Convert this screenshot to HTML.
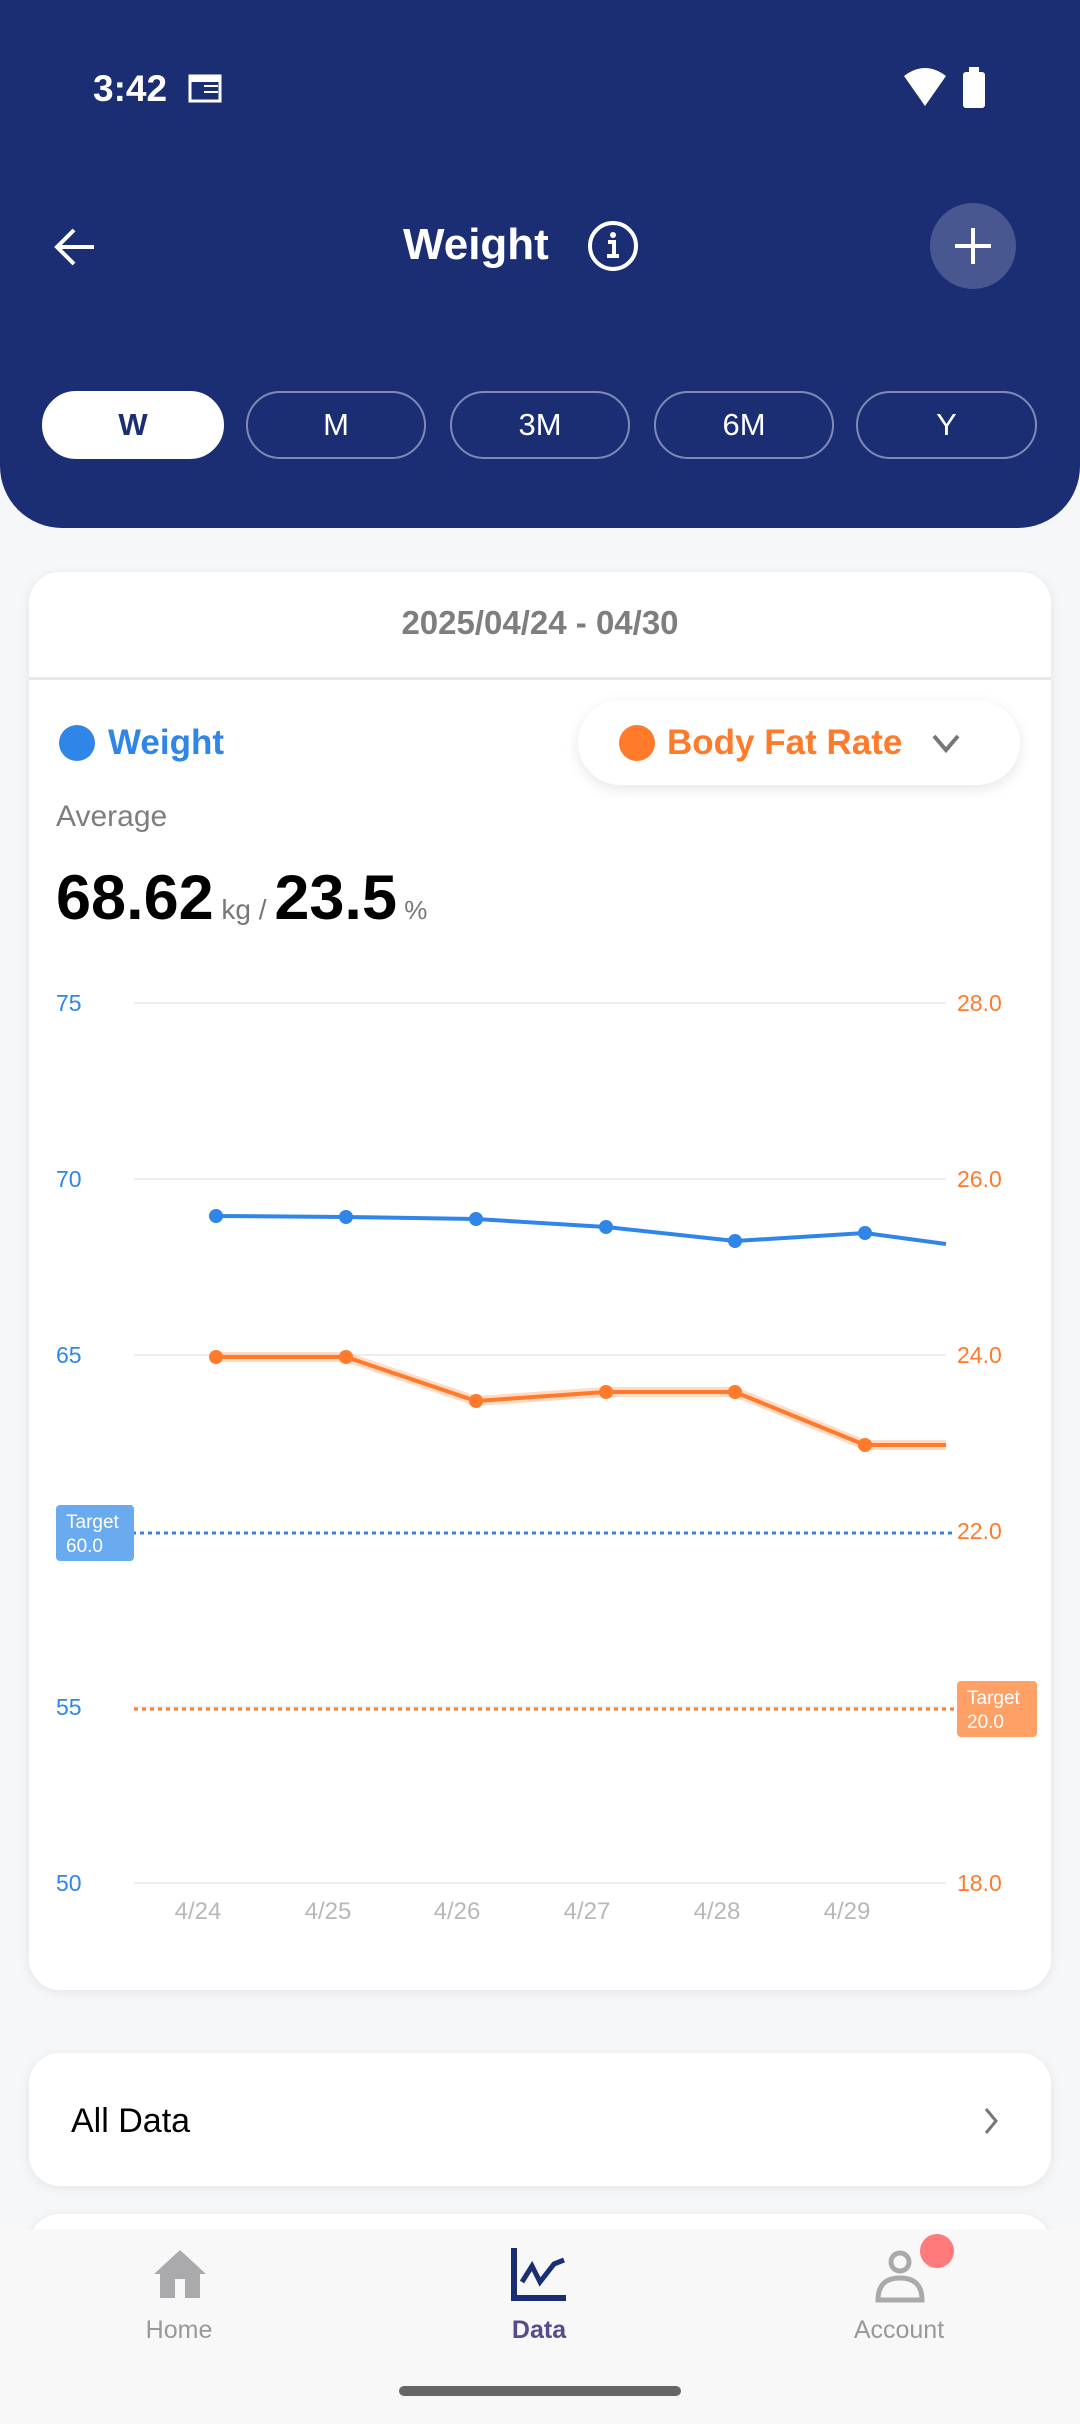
<!DOCTYPE html>
<html><head><meta charset="utf-8"><style>
*{margin:0;padding:0;box-sizing:border-box}
body{width:1080px;height:2424px;background:#f6f7f9;font-family:"Liberation Sans",sans-serif;position:relative;overflow:hidden}
.a{position:absolute}
.hdr{left:0;top:0;width:1080px;height:528px;background:#1b2e73;border-radius:0 0 62px 62px}
.tab{top:391px;height:68px;border:2px solid #7f8ab5;border-radius:34px;color:#fff;font-size:31px;display:flex;align-items:center;justify-content:center}
.card{background:#fff;border-radius:31px;box-shadow:0 2px 12px rgba(0,0,0,.08)}
</style></head><body>
<div class="a hdr"></div>
<div class="a" style="left:93px;top:68px;color:#fff;font-size:37px;font-weight:bold">3:42</div>
<svg class="a" style="left:188px;top:72px" width="36" height="32"><rect x="2" y="4" width="30" height="25" fill="none" stroke="#fff" stroke-width="3"/><rect x="2" y="4" width="30" height="6" fill="#fff"/><line x1="16" y1="14" x2="30" y2="14" stroke="#fff" stroke-width="2"/><line x1="16" y1="20" x2="30" y2="20" stroke="#fff" stroke-width="2"/></svg>
<svg class="a" style="left:900px;top:64px" width="100" height="46"><path d="M4 12 Q25 -4 46 12 L25 42 Z" fill="#fff"/><rect x="63" y="8" width="22" height="36" rx="3" fill="#fff"/><rect x="69" y="3" width="10" height="6" fill="#fff"/></svg>
<svg class="a" style="left:50px;top:222px" width="50" height="50"><path d="M44 25 H8 M24 8 L7 25 L24 42" fill="none" stroke="#fff" stroke-width="4"/></svg>
<div class="a" style="left:403px;top:220px;color:#fff;font-size:44px;font-weight:bold">Weight</div>
<svg class="a" style="left:586px;top:219px" width="54" height="54"><circle cx="27" cy="27" r="23" fill="none" stroke="#fff" stroke-width="4"/><circle cx="27" cy="16" r="3" fill="#fff"/><path d="M22 23 H28 V37 M21 37 H33" fill="none" stroke="#fff" stroke-width="4"/></svg>
<div class="a" style="left:930px;top:203px;width:86px;height:86px;border-radius:50%;background:#48578f"></div>
<svg class="a" style="left:951px;top:224px" width="44" height="44"><path d="M22 4 V40 M4 22 H40" stroke="#fff" stroke-width="4"/></svg>
<div class="a tab" style="left:42px;width:182px;background:#fff;border-color:#fff;color:#1b2e73;font-weight:bold">W</div>
<div class="a tab" style="left:246px;width:180px">M</div>
<div class="a tab" style="left:450px;width:180px">3M</div>
<div class="a tab" style="left:654px;width:180px">6M</div>
<div class="a tab" style="left:856px;width:181px">Y</div>

<div class="a card" style="left:29px;top:572px;width:1022px;height:1418px"></div>
<div class="a" style="left:29px;top:604px;width:1022px;text-align:center;color:#7e7e7e;font-size:33px;font-weight:bold">2025/04/24 - 04/30</div>
<div class="a" style="left:29px;top:677px;width:1022px;height:3px;background:#e8e8e8"></div>
<div class="a" style="left:59px;top:725px;width:36px;height:36px;border-radius:50%;background:#2f86e8"></div>
<div class="a" style="left:108px;top:723px;color:#2f86e8;font-size:35px;font-weight:bold">Weight</div>
<div class="a" style="left:578px;top:700px;width:442px;height:85px;border-radius:43px;background:#fff;box-shadow:0 4px 14px rgba(0,0,0,.1)"></div>
<div class="a" style="left:619px;top:725px;width:36px;height:36px;border-radius:50%;background:#ff7a2b"></div>
<div class="a" style="left:667px;top:723px;color:#ff7a2b;font-size:35px;font-weight:bold">Body Fat Rate</div>
<svg class="a" style="left:930px;top:730px" width="32" height="26"><path d="M4 6 L16 20 L28 6" fill="none" stroke="#777" stroke-width="4"/></svg>
<div class="a" style="left:56px;top:800px;color:#7e7e7e;font-size:30px">Average</div>
<div class="a" style="left:56px;top:862px;color:#000;font-size:63px;font-weight:bold;white-space:nowrap">68.62<span style="font-size:28px;color:#777;font-weight:normal"> kg / </span>23.5<span style="font-size:26px;color:#777;font-weight:normal"> %</span></div>

<svg class="a" style="left:0;top:0" width="1080" height="2000" font-family="Liberation Sans, sans-serif">
<g stroke="#eeeeee" stroke-width="2">
<line x1="134" y1="1003" x2="946" y2="1003"/><line x1="134" y1="1179" x2="946" y2="1179"/><line x1="134" y1="1355" x2="946" y2="1355"/><line x1="134" y1="1707" x2="946" y2="1707"/><line x1="134" y1="1883" x2="946" y2="1883"/>
</g>
<g fill="#2f86e8" font-size="23">
<text x="56" y="1011">75</text><text x="56" y="1187">70</text><text x="56" y="1363">65</text><text x="56" y="1539">60</text><text x="56" y="1715">55</text><text x="56" y="1891">50</text></g>
<g fill="#ff7a2b" font-size="23">
<text x="957" y="1011">28.0</text><text x="957" y="1187">26.0</text><text x="957" y="1363">24.0</text><text x="957" y="1539">22.0</text><text x="957" y="1715">20.0</text><text x="957" y="1891">18.0</text></g>
<g fill="#b8b8b8" font-size="24" text-anchor="middle">
<text x="198" y="1919">4/24</text><text x="328" y="1919">4/25</text><text x="457" y="1919">4/26</text><text x="587" y="1919">4/27</text><text x="717" y="1919">4/28</text><text x="847" y="1919">4/29</text></g>
<line x1="116" y1="1533" x2="955" y2="1533" stroke="#2f86e8" stroke-width="3" stroke-dasharray="4 4"/>
<line x1="134" y1="1709" x2="955" y2="1709" stroke="#ff7a2b" stroke-width="3" stroke-dasharray="4 4"/>
<polyline points="216,1216 346,1217 476,1219 606,1227 735,1241 865,1233 946,1244" fill="none" stroke="#2f86e8" stroke-width="4"/>
<g fill="#2f86e8"><circle cx="216" cy="1216" r="7"/><circle cx="346" cy="1217" r="7"/><circle cx="476" cy="1219" r="7"/><circle cx="606" cy="1227" r="7"/><circle cx="735" cy="1241" r="7"/><circle cx="865" cy="1233" r="7"/></g>
<polyline points="216,1357 346,1357 476,1401 606,1392 735,1392 865,1445 946,1445" fill="none" stroke="#ffb58a" stroke-width="10" opacity=".5"/>
<polyline points="216,1357 346,1357 476,1401 606,1392 735,1392 865,1445 946,1445" fill="none" stroke="#ff7a2b" stroke-width="4"/>
<g fill="#ff7a2b"><circle cx="216" cy="1357" r="7"/><circle cx="346" cy="1357" r="7"/><circle cx="476" cy="1401" r="7"/><circle cx="606" cy="1392" r="7"/><circle cx="735" cy="1392" r="7"/><circle cx="865" cy="1445" r="7"/></g>
<rect x="56" y="1505" width="78" height="56" rx="4" fill="#6aabf0"/>
<text x="66" y="1528" fill="#fff" font-size="19">Target</text><text x="66" y="1552" fill="#fff" font-size="19">60.0</text>
<rect x="957" y="1681" width="80" height="56" rx="4" fill="#ffa066"/>
<text x="967" y="1704" fill="#fff" font-size="19">Target</text><text x="967" y="1728" fill="#fff" font-size="19">20.0</text>
</svg>

<div class="a card" style="left:29px;top:2053px;width:1022px;height:133px"></div>
<div class="a" style="left:71px;top:2102px;font-size:34px;color:#000">All Data</div>
<svg class="a" style="left:982px;top:2106px" width="20" height="30"><path d="M4 3 L14 15 L4 27" fill="none" stroke="#777" stroke-width="3"/></svg>
<div class="a card" style="left:29px;top:2214px;width:1022px;height:100px"></div>
<div class="a" style="left:0;top:2229px;width:1080px;height:195px;background:#f8f8f8"></div>
<svg class="a" style="left:150px;top:2246px" width="60" height="56"><path d="M4 28 L30 4 L56 28 L50 28 L50 52 L10 52 L10 28 Z" fill="#aaaaad"/><rect x="25" y="33" width="10" height="19" fill="#f8f8f8"/></svg>
<svg class="a" style="left:510px;top:2246px" width="60" height="56"><path d="M4 2 V52 H56" fill="none" stroke="#1b2e73" stroke-width="6"/><path d="M12 36 L22 20 L30 36 L44 18 L54 14" fill="none" stroke="#1b2e73" stroke-width="5"/></svg>
<svg class="a" style="left:870px;top:2246px" width="60" height="60"><circle cx="30" cy="16" r="9" fill="none" stroke="#aaaaad" stroke-width="5"/><path d="M8 54 Q8 32 30 32 Q52 32 52 54 Z" fill="none" stroke="#aaaaad" stroke-width="5"/></svg>
<div class="a" style="left:920px;top:2234px;width:34px;height:34px;border-radius:50%;background:#ff7a7a"></div>
<div class="a" style="left:129px;top:2316px;width:100px;text-align:center;font-size:25px;color:#999">Home</div>
<div class="a" style="left:489px;top:2316px;width:100px;text-align:center;font-size:25px;color:#5a4a8c;font-weight:bold">Data</div>
<div class="a" style="left:829px;top:2316px;width:140px;text-align:center;font-size:25px;color:#999">Account</div>
<div class="a" style="left:399px;top:2386px;width:282px;height:10px;border-radius:5px;background:#666"></div>
</body></html>
